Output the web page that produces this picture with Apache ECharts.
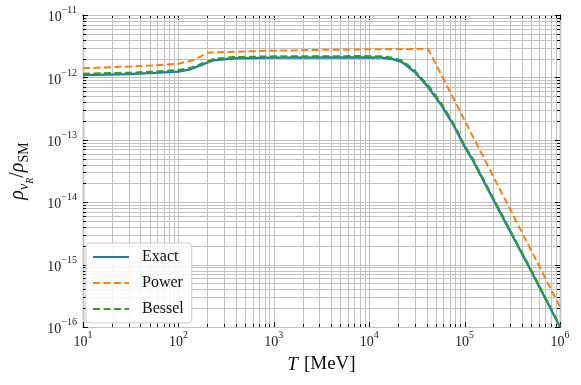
<!DOCTYPE html>
<html>
<head>
<meta charset="utf-8">
<script src="https://cdn.jsdelivr.net/npm/echarts@6/dist/echarts.min.js"></script>
<style>
  html, body { margin: 0; padding: 0; background: #fff; }
  #chart { width: 581px; height: 385px; }
</style>
</head>
<body>
<div id="chart"></div>
<script>
// temperatures [MeV] and energy density ratios
const tExact = [10, 30, 56, 100, 130, 170, 233, 376, 1000, 8400, 13600, 18000, 21900, 30000, 41400, 56900, 78200, 100000, 121000, 200000, 500000, 1000000];
const exact = [1.09e-12, 1.13e-12, 1.18e-12, 1.24e-12, 1.33e-12, 1.55e-12, 1.88e-12, 2.02e-12, 2.08e-12, 2.1e-12, 2.08e-12, 1.95e-12, 1.77e-12, 1.22e-12, 7.0e-13, 3.6e-13, 1.62e-13, 7.7e-14, 4.8e-14, 1.1e-14, 7.8e-16, 1.0e-16];

const tPower = [10, 56, 100, 145, 184, 207, 300, 980, 3000, 10000, 41400, 1000000];
const power = [1.40e-12, 1.55e-12, 1.66e-12, 1.9e-12, 2.3e-12, 2.5e-12, 2.55e-12, 2.68e-12, 2.76e-12, 2.82e-12, 2.87e-12, 2.1e-16];

const tBessel = [10, 30, 56, 100, 130, 170, 233, 376, 1000, 8400, 13600, 18000, 21900, 30000, 41400, 56900, 78200, 100000, 121000, 200000, 500000, 1000000];
const bessel = [1.14e-12, 1.18e-12, 1.23e-12, 1.30e-12, 1.39e-12, 1.62e-12, 1.96e-12, 2.10e-12, 2.16e-12, 2.18e-12, 2.16e-12, 2.03e-12, 1.85e-12, 1.28e-12, 7.4e-13, 3.8e-13, 1.70e-13, 8.0e-14, 5.0e-14, 1.14e-14, 8.0e-16, 1.03e-16];

const seriesNames = ['Exact', 'Power', 'Bessel'];
const colors = ['#1f77b4', '#ff7f0e', '#2ca02c'];

// decade exponents of the two axes
const xExp = [1, 2, 3, 4, 5, 6];
const yExp = [-16, -15, -14, -13, -12, -11];
const minorMult = [2, 3, 4, 5, 6, 7, 8, 9];

const serif = '"Liberation Serif", "DejaVu Serif", serif';

function tickValues(exps) {
  const out = [];
  exps.forEach((e, i) => {
    out.push({ v: Math.pow(10, e), major: 1 });
    if (i < exps.length - 1) {
      minorMult.forEach(m => out.push({ v: m * Math.pow(10, e), major: 0 }));
    }
  });
  return out;
}
const xTicks = tickValues(xExp);
const yTicks = tickValues(yExp);

function pow10Label(v) {
  const e = Math.round(Math.log10(v));
  return '{b|10}{sup|' + String(e).replace('-', '\u2212') + '}';
}
const labelRich = {
  b: { fontFamily: serif, fontSize: 14, color: '#222', verticalAlign: 'bottom', padding: [5, 0, 0, 0] },
  sup: { fontFamily: serif, fontSize: 10, color: '#222', verticalAlign: 'top' }
};

function xTickItem(params, api) {
  const cs = params.coordSys;
  const px = Math.round(api.coord([api.value(0), 1e-16])[0]) + 0.5;
  const len = api.value(2) ? 5 : 3;
  const bottom = cs.y + cs.height;
  return {
    type: 'group',
    children: [
      { type: 'line', shape: { x1: px, y1: cs.y, x2: px, y2: bottom }, style: { stroke: '#c2c2c2', lineWidth: 1 } },
      { type: 'line', shape: { x1: px, y1: bottom, x2: px, y2: bottom - len }, style: { stroke: '#000', lineWidth: 1 } },
      { type: 'line', shape: { x1: px, y1: cs.y, x2: px, y2: cs.y + len }, style: { stroke: '#000', lineWidth: 1 } }
    ]
  };
}

function yTickItem(params, api) {
  const cs = params.coordSys;
  const py = Math.round(api.coord([10, api.value(1)])[1]) + 0.5;
  const len = api.value(2) ? 5 : 3;
  const right = cs.x + cs.width;
  return {
    type: 'group',
    children: [
      { type: 'line', shape: { x1: cs.x, y1: py, x2: right, y2: py }, style: { stroke: '#c2c2c2', lineWidth: 1 } },
      { type: 'line', shape: { x1: cs.x, y1: py, x2: cs.x + len, y2: py }, style: { stroke: '#000', lineWidth: 1 } },
      { type: 'line', shape: { x1: right, y1: py, x2: right - len, y2: py }, style: { stroke: '#000', lineWidth: 1 } }
    ]
  };
}

const chart = echarts.init(document.getElementById('chart'));

const baseX = { type: 'log', min: 10, max: 1e6, logBase: 10, splitNumber: 5 };
const baseY = { type: 'log', min: 1e-16, max: 1e-11, logBase: 10, splitNumber: 5 };
const axisLine = { show: true, onZero: false, lineStyle: { color: '#000', width: 1.2 } };

const option = {
  animation: false,
  grid: { left: 78, right: 21, top: 15, bottom: 58 },
  xAxis: [
    Object.assign({}, baseX, {
      position: 'bottom',
      axisLine: axisLine,
      axisTick: { show: false },
      splitLine: { show: false },
      axisLabel: { margin: 3, formatter: pow10Label, rich: labelRich },
      name: '{i|T}{n|[MeV]}',
      nameLocation: 'middle',
      nameGap: 28,
      nameTextStyle: {
        rich: {
          i: { fontFamily: serif, fontSize: 19, fontStyle: 'italic', color: '#111', padding: [0, 6, 0, 0] },
          n: { fontFamily: serif, fontSize: 19, color: '#111' }
        }
      }
    }),
    Object.assign({}, baseX, {
      position: 'top',
      axisLine: axisLine,
      axisTick: { show: false },
      splitLine: { show: false },
      axisLabel: { show: false }
    })
  ],
  yAxis: [
    Object.assign({}, baseY, {
      position: 'left',
      axisLine: axisLine,
      axisTick: { show: false },
      splitLine: { show: false },
      axisLabel: { margin: 6, formatter: pow10Label, rich: labelRich },
      name: '{i|\u03c1}{s|\u03bd}{ss|R}{n|/}{i|\u03c1}{r|SM}',
      nameLocation: 'middle',
      nameRotate: 90,
      nameGap: 48,
      nameTextStyle: {
        rich: {
          i: { fontFamily: serif, fontSize: 20, fontStyle: 'italic', color: '#111', verticalAlign: 'top', padding: [0, 0, 7, 0] },
          n: { fontFamily: serif, fontSize: 20, color: '#111', verticalAlign: 'top', padding: [0, 0, 7, 0] },
          s: { fontFamily: serif, fontSize: 14, fontStyle: 'italic', color: '#111', verticalAlign: 'bottom', padding: [0, 0, 4, 0] },
          ss: { fontFamily: serif, fontSize: 10, fontStyle: 'italic', color: '#111', verticalAlign: 'bottom' },
          r: { fontFamily: serif, fontSize: 14, color: '#111', verticalAlign: 'bottom', padding: [0, 0, 4, 0] }
        }
      }
    }),
    Object.assign({}, baseY, {
      position: 'right',
      axisLine: axisLine,
      axisTick: { show: false },
      splitLine: { show: false },
      axisLabel: { show: false }
    })
  ],
  legend: {
    data: seriesNames,
    orient: 'vertical',
    left: 86,
    top: 243,
    padding: [6, 8, 6, 6],
    itemWidth: 36,
    itemHeight: 14,
    itemGap: 10,
    itemStyle: { opacity: 0 },
    backgroundColor: 'rgba(255,255,255,0.85)',
    borderColor: '#cccccc',
    borderWidth: 1,
    borderRadius: 4,
    textStyle: { fontFamily: serif, fontSize: 16, color: '#111', padding: [0, 0, 0, 8] }
  },
  series: [
    {
      type: 'custom',
      silent: true,
      z: 1,
      renderItem: xTickItem,
      data: xTicks.map(t => [t.v, 1e-16, t.major])
    },
    {
      type: 'custom',
      silent: true,
      z: 1,
      renderItem: yTickItem,
      data: yTicks.map(t => [10, t.v, t.major])
    },
    {
      name: 'Exact',
      type: 'line',
      symbol: 'none',
      z: 3,
      data: tExact.map((t, i) => [t, exact[i]]),
      lineStyle: { color: colors[0], width: 2.3 },
      itemStyle: { color: colors[0] }
    },
    {
      name: 'Power',
      type: 'line',
      symbol: 'none',
      z: 3,
      data: tPower.map((t, i) => [t, power[i]]),
      lineStyle: { color: colors[1], width: 2, type: [7, 3.5] },
      itemStyle: { color: colors[1] }
    },
    {
      name: 'Bessel',
      type: 'line',
      symbol: 'none',
      z: 3,
      data: tBessel.map((t, i) => [t, bessel[i]]),
      lineStyle: { color: colors[2], width: 2.4, type: [7, 3.5] },
      itemStyle: { color: colors[2] }
    }
  ]
};

chart.setOption(option);
</script>
</body>
</html>
